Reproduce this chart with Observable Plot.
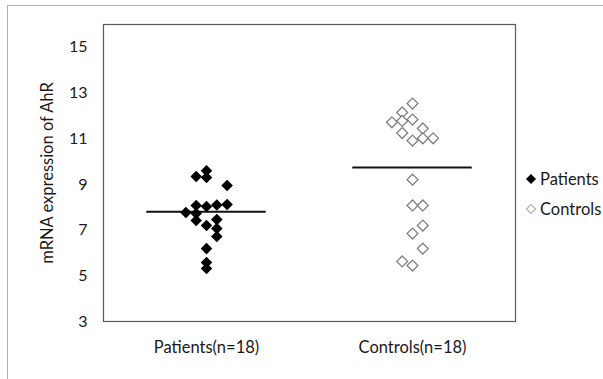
<!DOCTYPE html>
<html>
<head>
<meta charset="utf-8">
<script src="https://cdn.jsdelivr.net/npm/d3@7"></script>
<script src="https://cdn.jsdelivr.net/npm/@observablehq/plot@0.6"></script>
<style>
  body { margin: 0; background: #fff; }
  #wrap { position: relative; width: 603px; height: 379px; overflow: hidden; font-family: Lato, "Open Sans", sans-serif; }
  #outer { position: absolute; left: 7px; top: 5px; width: 620px; height: 400px; border-left: 1px solid #b0b0b0; border-top: 1px solid #b0b0b0; }
  #chart { position: absolute; left: 0; top: 0; }
  .legend { position: absolute; left: 525px; font-size: 16.5px; color: #1a1a1a; display: flex; align-items: center; gap: 3px; }
</style>
</head>
<body>
<div id="wrap">
  <div id="outer"></div>
  <div id="chart"></div>
</div>
<script>
// Groups (x position of each group) and tick labels
const categories = ["Patients(n=18)", "Controls(n=18)"];
const groupX = [1, 2];
const seriesNames = ["Patients", "Controls"];
const yLabel = "mRNA expression of AhR";

// Patients: mRNA expression values and column offsets (jitter columns, as in the source)
const patientValues = [9.6, 9.35, 9.3, 8.95, 8.08, 8.03, 8.1, 8.12, 7.77, 7.73, 7.42, 7.2, 7.46, 7.07, 6.72, 6.19, 5.58, 5.32];
const patientCols   = [0, -1, 0, 2, -1, 0, 1, 2, -2, -1, -1, 0, 1, 1, 1, 0, 0, 0];

// Controls
const controlValues = [12.54, 12.15, 11.72, 11.78, 11.84, 11.45, 11.25, 10.92, 11.02, 11.02, 9.21, 8.08, 8.08, 6.85, 7.2, 6.19, 5.63, 5.45];
const controlCols   = [0, -1, -2, -1, 0, 1, -1, 0, 1, 2, 0, 0, 1, 0, 1, 1, -1, 0];

// Mean lines
const meanValues = [7.8, 9.74];

// Y ticks
const yTicks = [3, 5, 7, 9, 11, 13, 15];

const colStep = 0.05;
const lineHalf = 0.29;
const FONT = "Lato, 'Open Sans', sans-serif";

const patients = patientValues.map((v, i) => ({x: groupX[0] + patientCols[i] * colStep, y: v}));
const controls = controlValues.map((v, i) => ({x: groupX[1] + controlCols[i] * colStep, y: v}));
const means = meanValues.map((v, i) => ({x1: groupX[i] - lineHalf, x2: groupX[i] + lineHalf, y: v}));

const plot = Plot.plot({
  width: 603,
  height: 379,
  marginLeft: 103,
  marginRight: 88,
  marginTop: 24,
  marginBottom: 58,
  style: {fontFamily: FONT, fontSize: "16px", color: "#1a1a1a", background: "transparent"},
  x: {domain: [0.5, 2.5]},
  y: {domain: [3, 16]},
  marks: [
    Plot.frame({stroke: "#5a5a5a", strokeWidth: 1.2}),
    Plot.axisY({ticks: yTicks, tickSize: 0, tickPadding: 16, label: null, fontSize: 16}),
    Plot.axisX({ticks: groupX, tickSize: 0, tickPadding: 20, tickFormat: (d) => categories[groupX.indexOf(d)], label: null, fontSize: 16.5}),
    Plot.text([yLabel], {frameAnchor: "left", text: (d) => d, rotate: -90, dx: -56, textAnchor: "middle", lineAnchor: "middle", fontSize: 16.5, fontFamily: FONT, fill: "#1a1a1a"}),
    Plot.ruleY(means, {x1: "x1", x2: "x2", y: "y", stroke: "#111", strokeWidth: 2}),
    Plot.dot(controls, {x: "x", y: "y", symbol: "diamond2", r: 4.9, stroke: "#7f7f7f", strokeWidth: 1.3, fill: "white"}),
    Plot.dot(patients, {x: "x", y: "y", symbol: "diamond2", r: 5.2, fill: "black", stroke: "none"})
  ]
});
document.getElementById("chart").appendChild(plot);

// Legend
const legendTops = [169, 199];
const legendSymbols = [
  '<svg width="12" height="12"><path d="M6,1 L11,6 L6,11 L1,6 Z" fill="black"/></svg>',
  '<svg width="12" height="12"><path d="M6,1.5 L10.5,6 L6,10.5 L1.5,6 Z" fill="white" stroke="#7f7f7f" stroke-width="1"/></svg>'
];
seriesNames.forEach((name, i) => {
  const d = document.createElement("div");
  d.className = "legend";
  d.style.top = legendTops[i] + "px";
  d.innerHTML = legendSymbols[i] + "<span>" + name + "</span>";
  document.getElementById("wrap").appendChild(d);
});
</script>
</body>
</html>
